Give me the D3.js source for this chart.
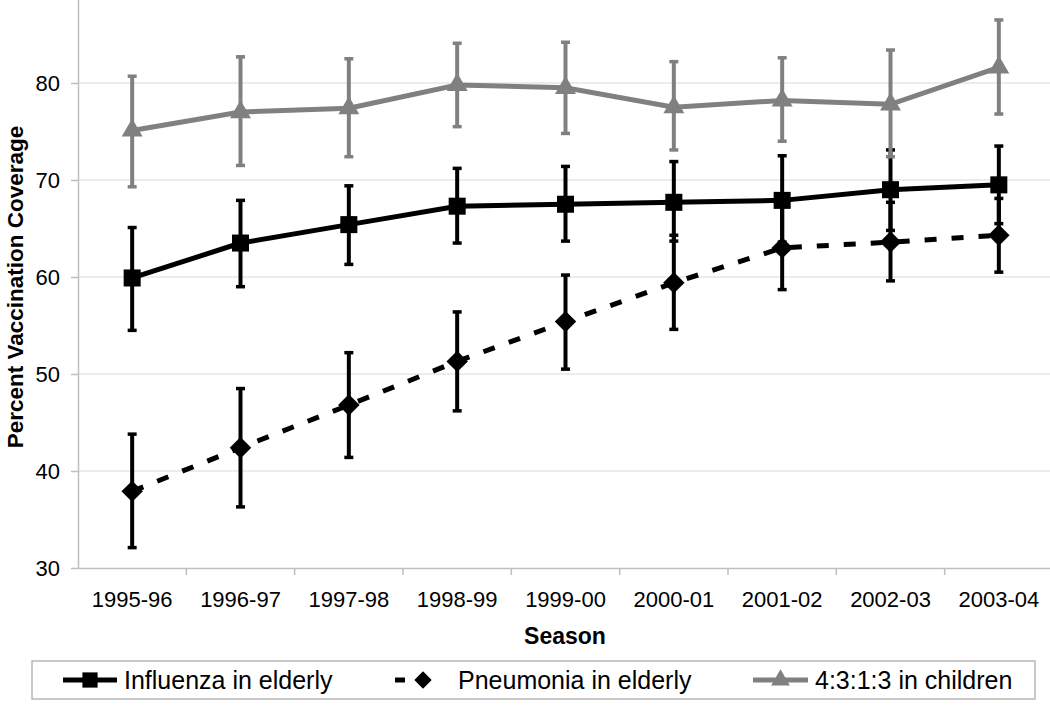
<!DOCTYPE html>
<html>
<head>
<meta charset="utf-8">
<script src="https://cdn.jsdelivr.net/npm/d3@7"></script>
<style>
  html, body { margin: 0; padding: 0; background: #fff; }
  svg { display: block; font-family: "Liberation Sans", Arial, sans-serif; }
</style>
</head>
<body>
<svg id="chart" width="1050" height="705"></svg>
<script>
const seasons = ["1995-96","1996-97","1997-98","1998-99","1999-00","2000-01","2001-02","2002-03","2003-04"];

const influenza     = [59.9, 63.5, 65.4, 67.3, 67.5, 67.7, 67.9, 69.0, 69.5];
const influenzaLow  = [54.5, 59.0, 61.3, 63.5, 63.7, 63.7, 63.6, 64.8, 65.5];
const influenzaHigh = [65.1, 67.9, 69.4, 71.2, 71.4, 71.9, 72.5, 73.1, 73.5];

const pneumonia     = [37.9, 42.4, 46.8, 51.3, 55.4, 59.4, 63.0, 63.6, 64.3];
const pneumoniaLow  = [32.1, 36.3, 41.4, 46.2, 50.5, 54.6, 58.7, 59.6, 60.5];
const pneumoniaHigh = [43.8, 48.5, 52.2, 56.4, 60.2, 64.3, 67.3, 67.7, 68.1];

const children      = [75.1, 77.0, 77.4, 79.8, 79.5, 77.5, 78.2, 77.8, 81.6];
const childrenLow   = [69.3, 71.5, 72.4, 75.5, 74.8, 73.1, 74.0, 72.4, 76.8];
const childrenHigh  = [80.7, 82.7, 82.5, 84.1, 84.2, 82.2, 82.6, 83.4, 86.5];

const yTicks = [30, 40, 50, 60, 70, 80];
const seriesNames = ["Influenza in elderly", "Pneumonia in elderly", "4:3:1:3 in children"];

const svg = d3.select("#chart");

const x = d3.scaleBand().domain(seasons).range([78, 1053]).paddingInner(0).paddingOuter(0);
const y = d3.scaleLinear().domain([30, 90]).range([568, -14]);
const cx = d => x(d) + x.bandwidth() / 2;

// gridlines
svg.append("g").selectAll("line").data(yTicks.slice(1)).join("line")
  .attr("x1", 78).attr("x2", 1053)
  .attr("y1", d => y(d)).attr("y2", d => y(d))
  .attr("stroke", "#e6e6e6").attr("stroke-width", 1.5);

// y axis
const yAxis = svg.append("g").attr("transform", "translate(78,0)")
  .call(d3.axisLeft(y).tickValues(yTicks).tickSize(7).tickPadding(11).tickSizeOuter(0));
yAxis.attr("font-size", 22).attr("font-family", "Liberation Sans, Arial, sans-serif");
yAxis.select(".domain").attr("stroke", "#bfbfbf").attr("stroke-width", 1.5);
yAxis.selectAll(".tick line").attr("stroke", "#bfbfbf").attr("stroke-width", 1.5);
yAxis.selectAll(".tick text").attr("fill", "#000");

// x axis
const xAxis = svg.append("g").attr("transform", "translate(0,568)")
  .call(d3.axisBottom(x).tickSize(0).tickPadding(23));
xAxis.attr("font-size", 22).attr("font-family", "Liberation Sans, Arial, sans-serif");
xAxis.select(".domain").attr("stroke", "#bfbfbf").attr("stroke-width", 1.5);
xAxis.selectAll(".tick text").attr("fill", "#000");
// x tick marks at band boundaries
svg.append("g").selectAll("line").data(seasons.slice(1)).join("line")
  .attr("x1", d => x(d)).attr("x2", d => x(d))
  .attr("y1", 568).attr("y2", 575)
  .attr("stroke", "#bfbfbf").attr("stroke-width", 1.5);

// axis titles
svg.append("text").attr("x", 565).attr("y", 644).attr("text-anchor", "middle")
  .attr("font-size", 23).attr("font-weight", "bold").text("Season");
svg.append("text").attr("transform", "translate(23,287) rotate(-90)")
  .attr("text-anchor", "middle").attr("font-size", 22.5).attr("font-weight", "bold")
  .text("Percent Vaccination Coverage");

const series = [
  { vals: influenza, lo: influenzaLow, hi: influenzaHigh, color: "#000", dash: null, sym: d3.symbolSquare, size: 290, rot: 0 },
  { vals: pneumonia, lo: pneumoniaLow, hi: pneumoniaHigh, color: "#000", dash: "12,15", sym: d3.symbolSquare, size: 230, rot: 45 },
  { vals: children,  lo: childrenLow,  hi: childrenHigh,  color: "#808080", dash: null, sym: d3.symbolTriangle, size: 190, rot: 0 }
];

const line = d3.line().x((d, i) => cx(seasons[i])).y(d => y(d));

series.forEach(s => {
  const g = svg.append("g");
  g.append("path").datum(s.vals).attr("d", line)
    .attr("fill", "none").attr("stroke", s.color).attr("stroke-width", 5)
    .attr("stroke-dasharray", s.dash);
  const eb = g.append("g").selectAll("g").data(seasons).join("g");
  eb.append("line")
    .attr("x1", d => cx(d)).attr("x2", d => cx(d))
    .attr("y1", (d, i) => y(s.lo[i])).attr("y2", (d, i) => y(s.hi[i]))
    .attr("stroke", s.color).attr("stroke-width", 4);
  eb.append("line")
    .attr("x1", d => cx(d) - 4.5).attr("x2", d => cx(d) + 4.5)
    .attr("y1", (d, i) => y(s.lo[i])).attr("y2", (d, i) => y(s.lo[i]))
    .attr("stroke", s.color).attr("stroke-width", 3.5);
  eb.append("line")
    .attr("x1", d => cx(d) - 4.5).attr("x2", d => cx(d) + 4.5)
    .attr("y1", (d, i) => y(s.hi[i])).attr("y2", (d, i) => y(s.hi[i]))
    .attr("stroke", s.color).attr("stroke-width", 3.5);
  g.append("g").selectAll("path").data(s.vals).join("path")
    .attr("d", d3.symbol().type(s.sym).size(s.size))
    .attr("transform", (d, i) => `translate(${cx(seasons[i])},${y(d)}) rotate(${s.rot})`)
    .attr("fill", s.color);
});

// legend
const lg = svg.append("g");
lg.append("rect").attr("x", 32).attr("y", 661).attr("width", 1003).attr("height", 38)
  .attr("fill", "#fff").attr("stroke", "#a6a6a6").attr("stroke-width", 1.2);
const legendItems = [
  { x0: 63, x1: 117, text: 124, s: series[0] },
  { x0: 395, x1: 451, text: 458, s: series[1] },
  { x0: 753, x1: 808, text: 815, s: series[2] }
];
legendItems.forEach((it, k) => {
  const ly = 680;
  const mx = (it.x0 + it.x1) / 2;
  if (it.s.dash) {
    lg.append("line").attr("x1", it.x0).attr("x2", it.x0 + 10).attr("y1", ly).attr("y2", ly)
      .attr("stroke", it.s.color).attr("stroke-width", 5);
    lg.append("path").attr("d", d3.symbol().type(it.s.sym).size(150))
      .attr("transform", `translate(${it.x0 + 28},${ly}) rotate(45)`).attr("fill", it.s.color);
  } else {
    lg.append("line").attr("x1", it.x0).attr("x2", it.x1).attr("y1", ly).attr("y2", ly)
      .attr("stroke", it.s.color).attr("stroke-width", 5);
    lg.append("path").attr("d", d3.symbol().type(it.s.sym).size(it.s.size * 0.8))
      .attr("transform", `translate(${mx},${ly})`).attr("fill", it.s.color);
  }
  lg.append("text").attr("x", it.text).attr("y", 689).attr("font-size", 25).text(seriesNames[k]);
});
</script>
</body>
</html>
